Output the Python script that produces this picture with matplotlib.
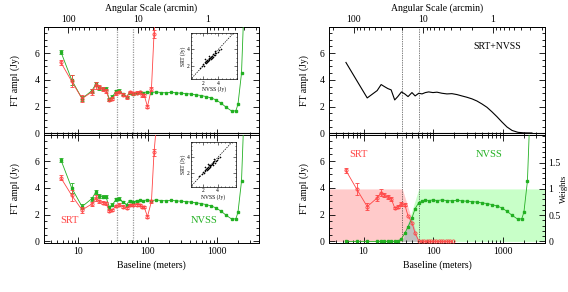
import numpy as np
import matplotlib
matplotlib.use('Agg')
import matplotlib.pyplot as plt
from matplotlib.ticker import (LogLocator, MultipleLocator, FixedLocator,
                               FuncFormatter, NullFormatter)

plt.rcParams['font.family'] = ['Liberation Serif', 'DejaVu Serif']
plt.rcParams['font.size'] = 7
plt.rcParams['axes.linewidth'] = 0.7

# ---------------- data ----------------
srt_baseline = [5.6, 8.0, 11.3, 15.7, 17.9, 19.9, 22.3, 24.9, 28.0, 31.0, 35.0, 39.0,
                43.5, 49.5, 55.0, 62.0, 69.0, 77.0, 83.0, 89.0, 99.0, 113.0, 123.0, 135.0]
srt_top = [5.3, 3.9, 2.6, 3.1, 3.6, 3.5, 3.3, 3.2, 2.5, 2.6, 3.0, 3.1,
           2.9, 2.7, 3.1, 3.0, 3.05, 3.1, 2.85, 2.85, 2.0, 3.35, 7.45, 10.0]
srt_top_err = [0.2, 0.45, 0.25, 0.2, 0.25, 0.15, 0.15, 0.15, 0.1, 0.1, 0.12, 0.1,
               0.1, 0.1, 0.1, 0.1, 0.1, 0.08, 0.1, 0.1, 0.12, 0.15, 0.3, 0.3]
srt_bottom = [4.75, 3.45, 2.35, 2.8, 3.25, 3.0, 2.9, 2.85, 2.25, 2.35, 2.65, 2.75,
              2.6, 2.5, 2.7, 2.7, 2.75, 2.75, 2.55, 2.55, 1.85, 3.0, 6.65, 9.0]
srt_bottom_err = [0.18, 0.4, 0.22, 0.18, 0.22, 0.13, 0.13, 0.13, 0.09, 0.09, 0.1, 0.09,
                  0.09, 0.09, 0.09, 0.09, 0.09, 0.07, 0.09, 0.09, 0.1, 0.13, 0.27, 0.27]

nvss_baseline = [5.6, 8.0, 11.3, 15.7, 17.9, 19.9, 22.3, 24.9, 28.0, 31.0,
                 35.0, 39.0, 43.5, 49.5, 55.0, 62.0, 69.0, 77.0, 86.0, 99.0,
                 113.0, 133, 157, 185, 219, 257, 304, 359, 423, 499,
                 589, 692, 818, 966, 1140, 1349, 1637, 1862, 1995, 2239, 2450]
nvss = [6.1, 4.0, 2.6, 3.2, 3.7, 3.4, 3.35, 3.35, 2.55, 2.75,
        3.15, 3.2, 2.95, 2.75, 3.05, 2.95, 3.0, 3.1, 3.05, 3.1,
        3.05, 3.1, 3.05, 3.03, 3.07, 3.03, 3.0, 2.98, 2.93, 2.88,
        2.83, 2.75, 2.65, 2.5, 2.25, 1.95, 1.65, 1.7, 2.2, 4.5, 10.0]
nvss_err_low = [0.15, 0.35, 0.2, 0.15, 0.15, 0.15, 0.12, 0.12, 0.1, 0.1,
                0.1, 0.1, 0.08, 0.08, 0.08, 0.08, 0.06]

# weighted data (right-bottom panel)
srt_w_baseline = [5.6, 8.0, 11.3, 15.7, 17.9, 19.9, 22.3, 24.9, 28.0, 31.0, 35.0, 39.0,
                  43.5, 49.5, 55.0, 62.0, 68, 74, 80, 87, 94, 102, 110, 119, 129,
                  140, 151, 163, 176, 190]
srt_weighted = [5.3, 3.9, 2.6, 3.25, 3.65, 3.45, 3.3, 3.2, 2.5, 2.6, 2.8, 2.75,
                1.9, 1.4, 0.6, 0.05, 0, 0, 0, 0, 0, 0, 0, 0, 0, 0, 0, 0, 0, 0]
srt_w_err = [0.2, 0.45, 0.25, 0.2, 0.25, 0.15, 0.15, 0.15, 0.1, 0.1, 0.12, 0.1]
nvss_weighted = [0, 0, 0, 0, 0, 0, 0, 0, 0, 0,
                 0.2, 0.6, 1.1, 1.75, 2.45, 2.9, 3.0, 3.1, 3.05, 3.1,
                 3.05, 3.1, 3.05, 3.03, 3.07, 3.03, 3.0, 2.98, 2.93, 2.88,
                 2.83, 2.75, 2.65, 2.5, 2.25, 1.95, 1.65, 1.7, 2.2, 4.5, 10.0]

# combined SRT+NVSS
comb_baseline = [5.6, 8.0, 11.3, 15.7, 17.9, 19.9, 22.3, 24.9, 28.0, 31.0,
                 35.0, 39.0, 43.5, 49.5, 55.0, 62.0, 69.0, 77.0, 86.0, 99.0,
                 113.0, 133, 157, 185, 219, 257, 304, 359, 423, 499,
                 589, 692, 818, 966, 1140, 1349, 1637, 1995, 2600]
comb = [5.3, 3.95, 2.65, 3.2, 3.65, 3.5, 3.35, 3.25, 2.5, 2.75,
        3.1, 2.95, 2.75, 3.05, 2.8, 3.0, 2.95, 3.05, 3.1, 3.05,
        3.08, 3.0, 2.95, 2.97, 2.9, 2.8, 2.7, 2.58, 2.42, 2.2,
        1.95, 1.62, 1.25, 0.85, 0.48, 0.22, 0.08, 0.04, 0.03]

# weights
weight_baseline = [3.2, 36.0, 47.2, 62.0, 4000.0]
srt_weight = [1.0, 1.0, 0.5, 0.0, 0.0]
nvss_weight = [0.0, 0.0, 0.5, 1.0, 1.0]
overlap_weight = [0.0, 0.0, 0.5, 0.0, 0.0]

# vertical scale markers (m)
scale_lines = [36.0, 62.0]

# inset scatter
inset_nvss = [1.5, 1.8, 2.0, 2.1, 2.2, 2.3, 2.4, 2.5, 2.5, 2.6, 2.7, 2.8, 2.8, 2.9, 3.0,
              3.0, 3.1, 3.2, 3.3, 3.3, 3.4, 3.5, 3.6, 3.7, 3.9, 4.1, 4.3, 2.2, 2.7, 3.5]
inset_srt = [1.7, 1.9, 2.2, 2.0, 2.4, 2.3, 2.6, 2.4, 2.7, 2.6, 2.8, 2.7, 3.0, 2.9, 3.1,
             2.8, 3.0, 3.2, 3.1, 3.4, 3.3, 3.5, 3.3, 3.6, 3.7, 3.9, 4.1, 2.8, 3.2, 3.8]

y_ticks = [0, 2, 4, 6]
x_ticks = [10, 100, 1000]
ang_ticks = [100, 10, 1]
weight_ticks = [0, 0.5, 1, 1.5]

RED = '#ff4444'
GREEN = '#22b022'
FS = 7

# ---------------- figure ----------------
W, H = 568, 292
fig = plt.figure(figsize=(W / 100, H / 100), dpi=100)


def rect(x0, y0, x1, y1):
    return [x0 / W, 1 - y1 / H, (x1 - x0) / W, (y1 - y0) / H]


ax_tl = fig.add_axes(rect(44, 27, 259, 135))
ax_bl = fig.add_axes(rect(44, 135, 259, 243))
ax_tr = fig.add_axes(rect(329, 27, 545, 135))
ax_br = fig.add_axes(rect(329, 135, 545, 243))

intfmt = FuncFormatter(lambda v, p: '%g' % v)


def ang(b):
    b = np.asarray(b, dtype=float)
    return 720.0 / np.where(b > 0, b, 1e-30)


def set_xaxis(ax):
    ax.set_xscale('log')
    ax.set_xlim(3.2, 4000)
    ax.xaxis.set_major_locator(FixedLocator(x_ticks))
    ax.xaxis.set_minor_locator(LogLocator(base=10, subs=np.arange(2, 10), numticks=20))
    ax.xaxis.set_major_formatter(intfmt)
    ax.xaxis.set_minor_formatter(NullFormatter())


def style(ax, is_top, right_ticks=True):
    set_xaxis(ax)
    ax.set_ylim(-0.12, 7.95)
    ax.yaxis.set_major_locator(FixedLocator(y_ticks))
    ax.yaxis.set_minor_locator(MultipleLocator(0.5))
    ax.tick_params(which='both', direction='in', top=not is_top, right=right_ticks,
                   width=0.6, labelsize=FS, pad=3)
    ax.tick_params(which='major', length=4)
    ax.tick_params(which='minor', length=2)
    ax.set_ylabel('FT ampl (Jy)')
    if is_top:
        ax.tick_params(labelbottom=False)
        ax.axhline(0, color='k', lw=0.8, zorder=1)
        sec = ax.secondary_xaxis('top', functions=(ang, ang))
        sec.xaxis.set_major_locator(FixedLocator(ang_ticks))
        sec.xaxis.set_minor_locator(LogLocator(base=10, subs=np.arange(2, 10), numticks=20))
        sec.xaxis.set_major_formatter(intfmt)
        sec.xaxis.set_minor_formatter(NullFormatter())
        sec.tick_params(which='both', direction='in', width=0.6, labelsize=FS, pad=2)
        sec.tick_params(which='major', length=4)
        sec.tick_params(which='minor', length=2)
        sec.set_xlabel('Angular Scale (arcmin)', labelpad=3)
    else:
        ax.set_xlabel('Baseline (meters)')
        ax.xaxis.set_label_coords(0.5, -0.16)


def inset(r):
    a = fig.add_axes(r)
    a.plot([0, 7], [0, 7], ls=(0, (2, 1.5)), color='k', lw=0.5)
    a.plot(inset_nvss, inset_srt, ls='none', marker='+', ms=2, mew=0.4, color='k')
    a.set_xlim(0.3, 6.5)
    a.set_ylim(0.3, 6.0)
    a.xaxis.set_major_locator(FixedLocator([2, 4]))
    a.yaxis.set_major_locator(FixedLocator([2, 4]))
    a.xaxis.set_minor_locator(MultipleLocator(0.5))
    a.yaxis.set_minor_locator(MultipleLocator(0.5))
    a.tick_params(which='both', direction='in', top=True, right=True, labelsize=4,
                  pad=1, width=0.4)
    a.tick_params(which='major', length=2)
    a.tick_params(which='minor', length=1)
    a.set_xlabel('NVSS (Jy)', fontsize=4, labelpad=0.5)
    a.set_ylabel('SRT (Jy)', fontsize=4, labelpad=0.5)
    for s in a.spines.values():
        s.set_linewidth(0.5)
    return a


# ---- left column ----
for ax, srt_vals, srt_err, is_top in [(ax_tl, srt_top, srt_top_err, True),
                                      (ax_bl, srt_bottom, srt_bottom_err, False)]:
    style(ax, is_top)
    for xv in scale_lines:
        ax.axvline(xv, color='#999999', ls=(0, (1, 1)), lw=0.9, zorder=1)
    ax.plot(nvss_baseline, nvss, color=GREEN, lw=0.6, marker='s', ms=1.8,
            mec=GREEN, mfc=GREEN, zorder=3)
    ax.errorbar(nvss_baseline[:len(nvss_err_low)], nvss[:len(nvss_err_low)],
                yerr=nvss_err_low, fmt='none', ecolor=GREEN, elinewidth=0.6,
                capsize=1.5, capthick=0.6, zorder=3)
    ax.errorbar(srt_baseline, srt_vals, yerr=srt_err, color=RED, lw=0.6, marker='o',
                ms=2.3, mfc='none', mec=RED, mew=0.6, elinewidth=0.6, capsize=1.5,
                capthick=0.6, zorder=4)
    ax.yaxis.set_label_coords(-0.112, 0.5)

ax_bl.text(0.12, 0.21, 'SRT', color=RED, transform=ax_bl.transAxes,
           ha='center', va='center', fontsize=7.5)
ax_bl.text(0.745, 0.21, 'NVSS', color=GREEN, transform=ax_bl.transAxes,
           ha='center', va='center', fontsize=7.5)

inset(rect(190.7, 33.3, 237, 79.3))
inset(rect(190.7, 141.7, 236, 186.7))

# ---- right column ----
style(ax_tr, True)
ax_tr.yaxis.set_label_coords(-0.093, 0.5)
for xv in scale_lines:
    ax_tr.axvline(xv, color='k', ls=(0, (1, 1.5)), lw=0.5, zorder=1)
ax_tr.plot(comb_baseline, comb, color='k', lw=0.8, zorder=3)
ax_tr.text(0.78, 0.82, 'SRT+NVSS', transform=ax_tr.transAxes, ha='center',
           va='center', fontsize=FS)

style(ax_br, False, right_ticks=False)
ax_br.yaxis.set_label_coords(-0.093, 0.5)
axw = ax_br.twinx()
axw.set_ylim(-0.12 / 3.92, 7.95 / 3.92)
axw.yaxis.set_major_locator(FixedLocator(weight_ticks))
axw.yaxis.set_minor_locator(MultipleLocator(0.1))
axw.yaxis.set_major_formatter(FuncFormatter(lambda v, p: '%g' % v))
axw.tick_params(which='both', direction='in', width=0.6, labelsize=FS, pad=2.5)
axw.tick_params(which='major', length=4)
axw.tick_params(which='minor', length=2)
axw.set_ylabel('Weights', rotation=90, fontsize=6.3, va='center')
axw.yaxis.set_label_coords(1.088, 0.5)
axw.fill_between(weight_baseline, 0, srt_weight, color='#ffcaca', lw=0, zorder=0)
axw.fill_between(weight_baseline, 0, nvss_weight, color='#c8ffc8', lw=0, zorder=0)
axw.fill_between(weight_baseline, 0, overlap_weight, color='#c0c0c0', lw=0, zorder=1)
ax_br.set_zorder(axw.get_zorder() + 1)
ax_br.patch.set_visible(False)
set_xaxis(ax_br)

for xv in scale_lines:
    ax_br.axvline(xv, color='k', ls=(0, (1, 1.5)), lw=0.5, zorder=1)
ax_br.plot(nvss_baseline, nvss_weighted, color=GREEN, lw=0.6, marker='s', ms=1.8,
           mec=GREEN, mfc=GREEN, zorder=3)
ax_br.plot(srt_w_baseline, srt_weighted, color=RED, lw=0.6, marker='o', ms=2.3,
           mfc='none', mec=RED, mew=0.6, zorder=4)
ax_br.errorbar(srt_w_baseline[:len(srt_w_err)], srt_weighted[:len(srt_w_err)],
               yerr=srt_w_err, fmt='none', ecolor=RED, elinewidth=0.6, capsize=1.5,
               capthick=0.6, zorder=4)
ax_br.text(0.134, 0.815, 'SRT', color=RED, transform=ax_br.transAxes,
           ha='center', va='center', fontsize=7.5)
ax_br.text(0.74, 0.815, 'NVSS', color=GREEN, transform=ax_br.transAxes,
           ha='center', va='center', fontsize=7.5)

fig.savefig('out.png', dpi=100)
